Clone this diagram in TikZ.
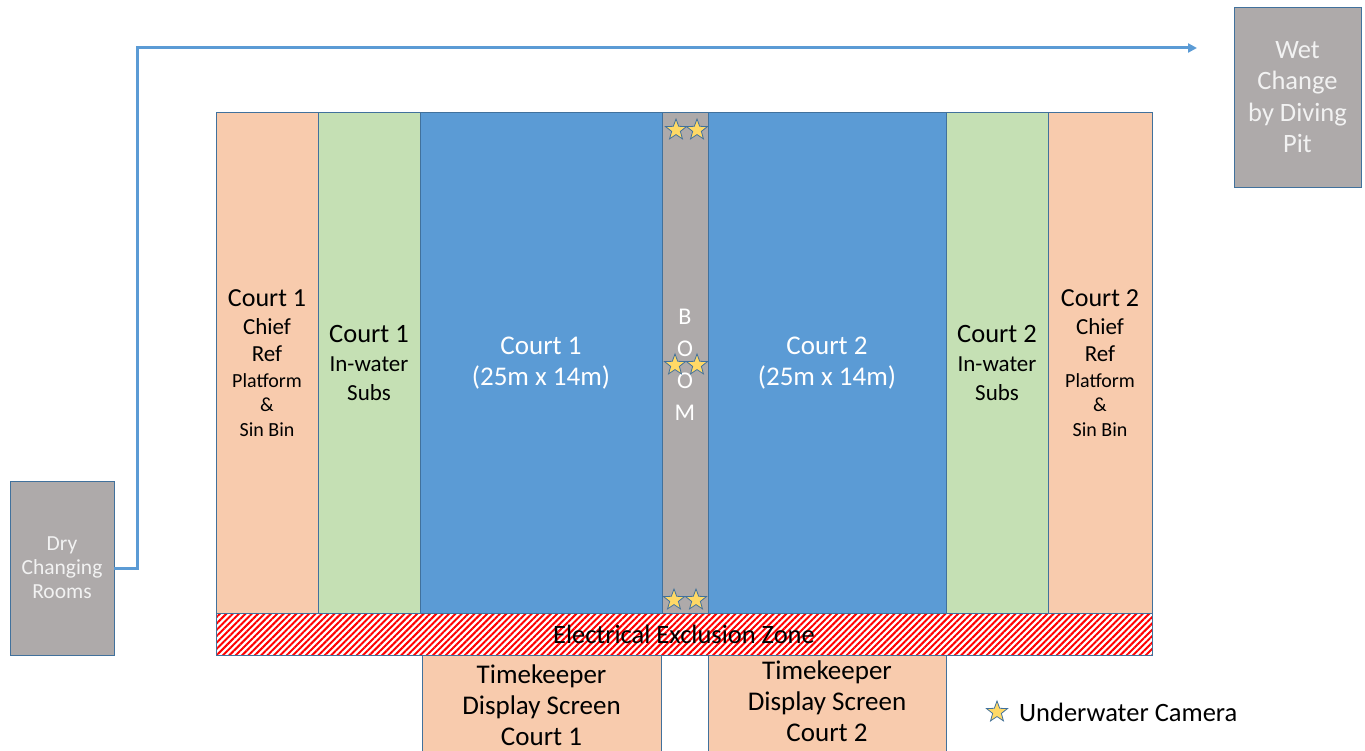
\documentclass[tikz,border=0pt]{standalone}
\usepackage{fontspec}
\setmainfont{Carlito}
\usetikzlibrary{shapes.geometric,patterns.meta,arrows.meta}
\definecolor{peach}{HTML}{F8CBAD}
\definecolor{mint}{HTML}{C5E0B4}
\definecolor{pool}{HTML}{5B9BD5}
\definecolor{boomgray}{HTML}{AEAAAA}
\definecolor{edge}{HTML}{41719C}
\definecolor{staryellow}{HTML}{FFD966}
\definecolor{lighttext}{HTML}{F2F2F2}
\tikzset{
  zone/.style={draw=edge, line width=0.8pt, inner sep=0pt, outer sep=0pt, align=center},
  camera/.style={star, star points=5, star point ratio=2.4, minimum size=22pt, inner sep=0pt,
                 fill=staryellow, draw=edge, line width=0.8pt},
  route/.style={draw=pool, line width=3pt, -{Triangle[length=9pt,width=9pt]}},
  bigtxt/.style={font=\fontsize{27}{31}\selectfont},
}
\begin{document}
\begin{tikzpicture}[x=1pt,y=-1pt]
\useasboundingbox (0,0) rectangle (1365,751);
% columns
\node[zone, fill=peach, minimum width=102, minimum height=502, font=\fontsize{23}{27.5}\selectfont] (ref1) at (267,363)
  {{\fontsize{26}{27}\selectfont Court 1}\\Chief\\Ref\\[-2pt]{\fontsize{20}{25}\selectfont Platform}\\[-3pt]{\fontsize{20}{25}\selectfont \&}\\[-3pt]{\fontsize{20}{25}\selectfont Sin Bin}};
\node[zone, fill=mint, minimum width=102, minimum height=502, font=\fontsize{23}{29}\selectfont] (subs1) at (369,363)
  {{\fontsize{26.5}{29}\selectfont Court 1}\\In-water\\Subs};
\node[zone, fill=pool, minimum width=242, minimum height=502, text=white, bigtxt] (pool1) at (541,363)
  {Court 1\\(25m x 14m)};
\node[zone, fill=boomgray, minimum width=46, minimum height=502] (boom) at (685,363) {};
\node[text=white, align=center, font=\fontsize{24}{32}\selectfont] (boomtext) at (685,365) {B\\O\\O\\M};
\node[zone, fill=pool, minimum width=238, minimum height=502, text=white, bigtxt] (pool2) at (827,363)
  {Court 2\\(25m x 14m)};
\node[zone, fill=mint, minimum width=102, minimum height=502, font=\fontsize{23}{29}\selectfont] (subs2) at (997,363)
  {{\fontsize{26.5}{29}\selectfont Court 2}\\In-water\\Subs};
\node[zone, fill=peach, minimum width=104, minimum height=502, font=\fontsize{23}{27.5}\selectfont] (ref2) at (1100,363)
  {{\fontsize{26}{27}\selectfont Court 2}\\Chief\\Ref\\[-2pt]{\fontsize{20}{25}\selectfont Platform}\\[-3pt]{\fontsize{20}{25}\selectfont \&}\\[-3pt]{\fontsize{20}{25}\selectfont Sin Bin}};
% exclusion zone
\node[zone, minimum width=936, minimum height=42, preaction={fill=white},
      pattern={Lines[angle=45,distance=4.5pt,line width=2pt]}, pattern color=red,
      font=\fontsize{26.5}{28}\selectfont] (excl) at (684,634) {Electrical Exclusion Zone};
% timekeeper boxes
\node[zone, fill=peach, minimum width=239, minimum height=110] (tk1) at (541.5,710) {};
\node[align=center, bigtxt] (tk1text) at (541.5,705) {Timekeeper\\Display Screen\\Court 1};
\node[zone, fill=peach, minimum width=238, minimum height=110] (tk2) at (827,710) {};
\node[align=center, bigtxt] (tk2text) at (827,701) {Timekeeper\\Display Screen\\Court 2};
% changing rooms
\node[zone, fill=boomgray, minimum width=104, minimum height=174, text=lighttext, font=\fontsize{21.5}{24}\selectfont] (dry) at (62,568)
  {Dry\\Changing\\Rooms};
\node[zone, fill=boomgray, minimum width=127, minimum height=180, text=lighttext, font=\fontsize{26.5}{31.5}\selectfont] (wet) at (1297.5,97)
  {Wet\\Change\\by Diving\\Pit};
% route
\coordinate (turn) at (137,48);
\coordinate (tip) at (1197,48);
\draw[route] (dry.east) -| (turn) -- (tip);
% cameras
\node[camera] (c1) at (676,130) {};
\node[camera] (c2) at (697,130) {};
\node[camera] (c3) at (675,365) {};
\node[camera] (c4) at (697,365) {};
\node[camera] (c5) at (674,600) {};
\node[camera] (c6) at (696,600) {};
% legend
\node[camera] (lg) at (997,712) {};
\node[anchor=west, font=\fontsize{26.5}{28}\selectfont, inner sep=0pt] (lgtext) at (1019,712) {Underwater Camera};
\end{tikzpicture}
\end{document}
